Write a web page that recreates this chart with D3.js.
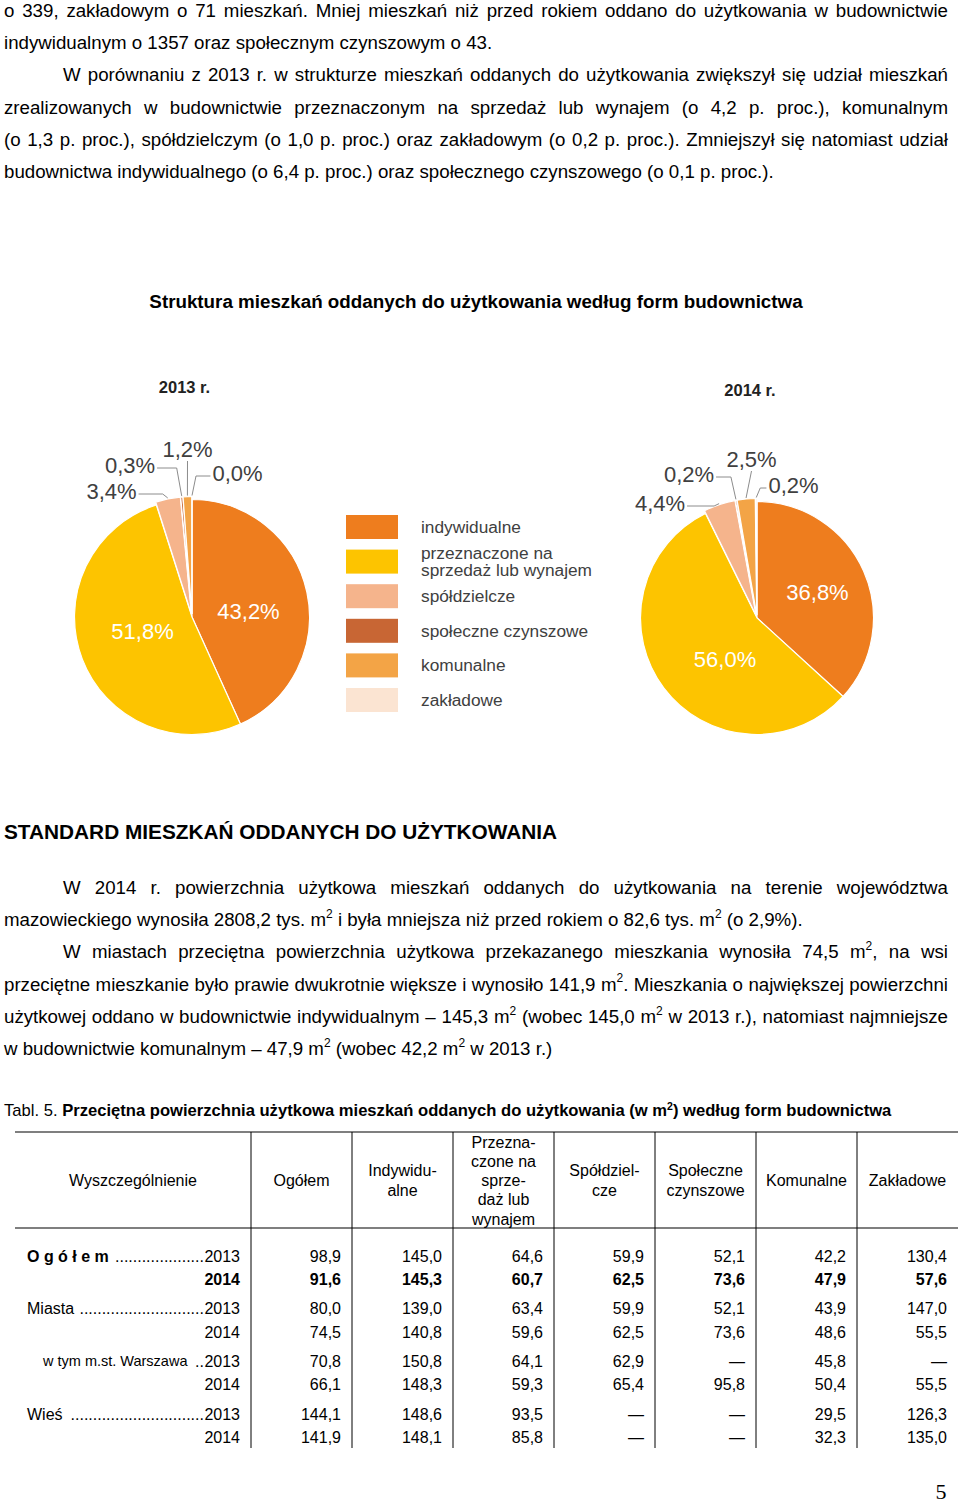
<!DOCTYPE html>
<html><head><meta charset="utf-8">
<script src="https://cdn.jsdelivr.net/npm/d3@7"></script>
<style>
body{margin:0;background:#fff;}
#page{position:relative;width:960px;height:1504px;overflow:hidden;font-family:"Liberation Sans",Arial,sans-serif;color:#000;}
.line{position:absolute;font-size:18.7px;line-height:20px;white-space:nowrap;}
.line span{display:inline-block;white-space:nowrap;}
sup{font-size:12px;line-height:0;position:relative;top:-1px;vertical-align:super;}
svg{position:absolute;left:0;top:0;}
</style></head>
<body><div id="page"></div>
<script>
// ---------- data ----------
const para1 = [
  {t:"o 339, zakładowym o 71 mieszkań. Mniej mieszkań niż przed rokiem oddano do użytkowania w budownictwie", j:true, ind:0},
  {t:"indywidualnym o 1357 oraz społecznym czynszowym o 43.", j:false, ind:0},
  {t:"W porównaniu z 2013 r. w strukturze mieszkań oddanych do użytkowania zwiększył się udział mieszkań", j:true, ind:59},
  {t:"zrealizowanych w budownictwie przeznaczonym na sprzedaż lub wynajem (o 4,2 p. proc.), komunalnym", j:true, ind:0},
  {t:"(o 1,3 p. proc.), spółdzielczym (o 1,0 p. proc.) oraz zakładowym (o 0,2 p. proc.). Zmniejszył się natomiast udział", j:true, ind:0},
  {t:"budownictwa indywidualnego (o 6,4 p. proc.) oraz społecznego czynszowego (o 0,1 p. proc.).", j:false, ind:0}
];
const para2 = [
  {t:"W 2014 r. powierzchnia użytkowa mieszkań oddanych do użytkowania na terenie województwa", j:true, ind:59},
  {t:"mazowieckiego wynosiła 2808,2 tys. m<sup>2</sup> i była mniejsza niż przed rokiem o 82,6 tys. m<sup>2</sup> (o 2,9%).", j:false, ind:0},
  {t:"W miastach przeciętna powierzchnia użytkowa przekazanego mieszkania wynosiła 74,5 m<sup>2</sup>, na wsi", j:true, ind:59},
  {t:"przeciętne mieszkanie było prawie dwukrotnie większe i wynosiło 141,9 m<sup>2</sup>. Mieszkania o największej powierzchni", j:true, ind:0},
  {t:"użytkowej oddano w budownictwie indywidualnym – 145,3 m<sup>2</sup> (wobec 145,0 m<sup>2</sup> w 2013 r.), natomiast najmniejsze", j:true, ind:0},
  {t:"w budownictwie komunalnym – 47,9 m<sup>2</sup> (wobec 42,2 m<sup>2</sup> w 2013 r.)", j:false, ind:0}
];
const chartTitle = "Struktura mieszkań oddanych do użytkowania według form budownictwa";
const sectionTitle = "STANDARD MIESZKAŃ ODDANYCH DO UŻYTKOWANIA";
const years = ["2013 r.", "2014 r."];
const categories = ["indywidualne","przeznaczone na sprzedaż lub wynajem","spółdzielcze","społeczne czynszowe","komunalne","zakładowe"];
const values2013 = [43.2, 51.8, 3.4, 0.3, 1.2, 0.0];
const values2014 = [36.8, 56.0, 4.4, 0.2, 2.5, 0.2];
const colors = ["#EE7D1E","#FDC400","#F5B48C","#C86634","#F3A446","#FBE4D2"];

const tableTitleNormal = "Tabl. 5. ";
const tableTitleBold = "Przeciętna powierzchnia użytkowa mieszkań oddanych do użytkowania (w m";
const tableTitleEnd = ") według form budownictwa";
const tableHeaders = ["Wyszczególnienie","Ogółem","Indywidu-|alne","Przezna-|czone na|sprze-|daż lub|wynajem","Spółdziel-|cze","Społeczne|czynszowe","Komunalne","Zakładowe"];
const rowLabels = ["O g ó ł e m","Miasta","w tym m.st. Warszawa","Wieś"];
const tableYears = ["2013","2014"];
const tableValues = [
  [98.9,145.0,64.6,59.9,52.1,42.2,130.4],
  [91.6,145.3,60.7,62.5,73.6,47.9,57.6],
  [80.0,139.0,63.4,59.9,52.1,43.9,147.0],
  [74.5,140.8,59.6,62.5,73.6,48.6,55.5],
  [70.8,150.8,64.1,62.9,null,45.8,null],
  [66.1,148.3,59.3,65.4,95.8,50.4,55.5],
  [144.1,148.6,93.5,null,null,29.5,126.3],
  [141.9,148.1,85.8,null,null,32.3,135.0]
];
const pageNumber = "5";

// ---------- layout ----------
const page = d3.select("#page");
const fmt = v => v == null ? "—" : d3.format(".1f")(v).replace(".", ",");

function drawPara(lines, y0, step){
  lines.forEach((l,i)=>{
    const div = page.append("div").attr("class","line")
      .style("top",(y0 + i*step - 10)+"px").style("left",(4+l.ind)+"px");
    const span = div.append("span").html(l.t);
    if(l.j){
      const w = span.node().getBoundingClientRect().width;
      const n = (span.node().textContent.match(/ /g)||[]).length;
      span.style("word-spacing", ((944 - l.ind - w)/n)+"px");
    }
  });
}
drawPara(para1, 11, 32.2);
drawPara(para2, 888, 32.2);

const svg = page.append("svg").attr("width",960).attr("height",1504);

svg.append("text").attr("x",476).attr("y",301).attr("dy","0.35em")
  .attr("text-anchor","middle").attr("font-weight","bold").attr("font-size",18.8)
  .text(chartTitle);

// ---------- pies ----------
const pies = [
  {vals:values2013, cx:192, cy:617, R:117.5, title:[184.5,387],
   lab:[[56.5,-6],[-49.5,14],[-80.5,-126],[-62,-152],[-4.5,-168],[45.5,-144]]},
  {vals:values2014, cx:757, cy:618, R:116.5, title:[750,390],
   lab:[[60.5,-26],[-32,41],[-97,-115],[-68,-144],[-5.5,-159],[36.5,-133]]}
];
const pieGen = d3.pie().sort(null).value(d=>d);
const explode = 3;
pies.forEach((p,pi)=>{
  svg.append("text").attr("x",p.title[0]).attr("y",p.title[1]).attr("dy","0.35em")
    .attr("text-anchor","middle").attr("font-weight","bold").attr("font-size",16.5)
    .attr("fill","#222").text(years[pi]);
  const g = svg.append("g").attr("transform",`translate(${p.cx},${p.cy})`);
  const arc = d3.arc().innerRadius(0).outerRadius(p.R);
  const arcs = pieGen(p.vals);
  const off = (d,e) => {
    const m = (d.startAngle+d.endAngle)/2;
    return [Math.sin(m)*e, -Math.cos(m)*e];
  };
  g.selectAll("path.slice").data(arcs).join("path").attr("class","slice")
    .attr("d",arc).attr("fill",(d,k)=>colors[k])
    .attr("stroke","#fff").attr("stroke-width",1.2)
    .attr("transform",(d,k)=>{const o = k>=2?off(d,explode):[0,0]; return `translate(${o[0]},${o[1]})`;});
  arcs.forEach((d,k)=>{
    const [dx,dy] = p.lab[k];
    const inside = k<2;
    const t = g.append("text").attr("x",dx).attr("y",dy).attr("dy","0.35em")
      .attr("text-anchor","middle").attr("font-size",22)
      .attr("fill", inside ? "#fff" : "#404040").text(fmt(d.value)+"%");
    if(!inside){
      const w = t.node().getComputedTextLength();
      const m = (d.startAngle+d.endAngle)/2;
      const rr = p.R + explode + 1;
      const sp = [Math.sin(m)*rr, -Math.cos(m)*rr];
      let pts;
      if(Math.abs(dx) < 15){
        pts = [[dx, dy+12],[sp[0],sp[1]]];
      } else if(dx < 0){
        const ly = dy+3;
        pts = [[dx+w/2+2, ly],[sp[0]-5, ly],[sp[0],sp[1]]];
      } else {
        const ly = dy+3;
        pts = [[dx-w/2-2, ly],[sp[0]+4, ly],[sp[0],sp[1]]];
      }
      g.append("path").attr("d", d3.line()(pts)).attr("fill","none")
        .attr("stroke","#8c8c8c").attr("stroke-width",1);
    }
  });
});

// ---------- legend ----------
const legY = d3.scalePoint().domain(categories).range([527,700]);
const legLines = {"przeznaczone na sprzedaż lub wynajem":["przeznaczone na","sprzedaż lub wynajem"]};
const leg = svg.append("g");
categories.forEach((c,k)=>{
  leg.append("rect").attr("x",346).attr("y",legY(c)-12).attr("width",52).attr("height",24).attr("fill",colors[k]);
  const lines = legLines[c] || [c];
  const t = leg.append("text").attr("x",421).attr("font-size",17.3).attr("fill","#404040");
  lines.forEach((ln,li)=>{
    t.append("tspan").attr("x",421)
      .attr("y", legY(c) + (li - (lines.length-1)/2)*17).attr("dy","0.35em").text(ln);
  });
});

// ---------- section title ----------
svg.append("text").attr("x",4).attr("y",832).attr("dy","0.35em")
  .attr("font-weight","bold").attr("font-size",20.8).text(sectionTitle);

// ---------- table ----------
const tt = svg.append("text").attr("x",4).attr("y",1110).attr("dy","0.35em").attr("font-size",16.6);
tt.append("tspan").text(tableTitleNormal);
tt.append("tspan").attr("font-weight","bold").text(tableTitleBold);
tt.append("tspan").attr("font-weight","bold").attr("font-size",10.5).attr("dy",-6).text("2");
tt.append("tspan").attr("font-weight","bold").attr("dy",6).text(tableTitleEnd);

const tX0 = 15, tX1 = 958, tTop = 1132, tHead = 1228, tBot = 1448;
const colX = d3.scaleBand().domain(tableHeaders.slice(1)).range([251, tX1]);
svg.append("line").attr("x1",tX0).attr("x2",tX1).attr("y1",tTop).attr("y2",tTop).attr("stroke","#000").attr("stroke-width",1.2);
svg.append("line").attr("x1",tX0).attr("x2",tX1).attr("y1",tHead).attr("y2",tHead).attr("stroke","#000").attr("stroke-width",1.2);
svg.selectAll("line.vsep").data(tableHeaders.slice(1)).join("line").attr("class","vsep")
  .attr("x1",d=>colX(d)).attr("x2",d=>colX(d)).attr("y1",tTop).attr("y2",tBot)
  .attr("stroke","#000").attr("stroke-width",1);

const headCenter = (tTop+tHead)/2 + 0.5;
tableHeaders.forEach((h,k)=>{
  const cx = k===0 ? 133 : colX(h) + colX.bandwidth()/2;
  const parts = h.split("|");
  const t = svg.append("text").attr("text-anchor","middle").attr("font-size",16);
  parts.forEach((pt,pi)=>{
    t.append("tspan").attr("x", cx)
      .attr("y", headCenter + (pi-(parts.length-1)/2)*19.3).attr("dy","0.35em").text(pt);
  });
});

const grpY = d3.scaleBand().domain(rowLabels).range([1245, 1245+52.7*4]);
const rowIndent = [27,27,43,27];
const rowLabelSize = [16,16,14.5,16];
rowLabels.forEach((lab,gi)=>{
  tableYears.forEach((yr,yi)=>{
    const ri = gi*2+yi;
    const y = grpY(lab) + 11 + yi*23.3;
    const bold = gi===0 && yi===1;
    const yt = svg.append("text").attr("x",240).attr("y",y).attr("dy","0.35em")
      .attr("text-anchor","end").attr("font-size",16).attr("font-weight",bold?"bold":"normal").text(yr);
    if(yi===0){
      const lt = svg.append("text").attr("x",rowIndent[gi]).attr("y",y).attr("dy","0.35em")
        .attr("font-size",rowLabelSize[gi]).attr("font-weight", gi===0?"bold":"normal").text(lab);
      const lw = lt.node().getComputedTextLength();
      const yw = yt.node().getComputedTextLength();
      const space = (240 - yw) - (rowIndent[gi] + lw) - 4;
      const n = Math.max(1, Math.floor(space / 4.45));
      svg.append("text").attr("x", 240 - yw - 0.5).attr("y",y).attr("dy","0.35em")
        .attr("text-anchor","end").attr("font-size",16).text(".".repeat(n));
    }
    svg.selectAll(null).data(tableValues[ri]).join("text")
      .attr("x",(v,ci)=>colX(tableHeaders[ci+1]) + colX.bandwidth() - 11)
      .attr("y",y).attr("dy","0.35em").attr("text-anchor","end").attr("font-size",16)
      .attr("font-weight",bold?"bold":"normal").text(v=>fmt(v));
  });
});

svg.append("text").attr("x",941).attr("y",1491).attr("dy","0.35em").attr("text-anchor","middle")
  .attr("font-family","'Liberation Serif',serif").attr("font-size",22).text(pageNumber);
</script>
</body></html>
